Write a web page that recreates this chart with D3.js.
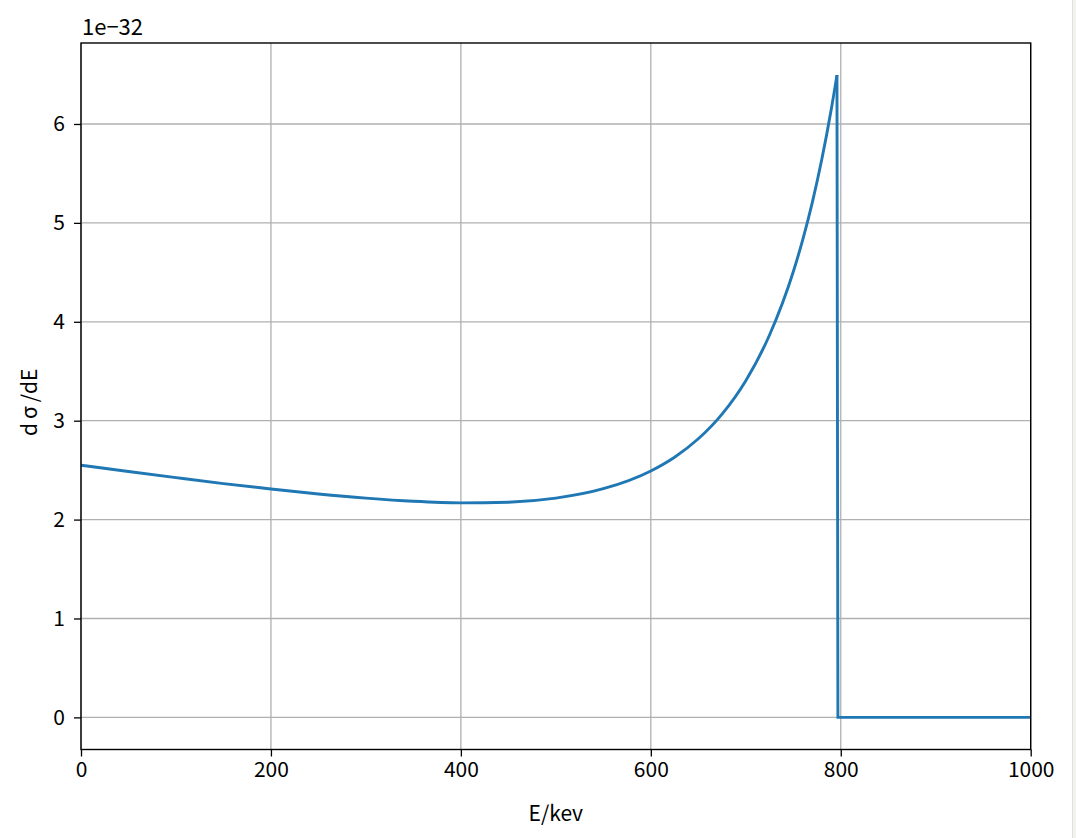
<!DOCTYPE html>
<html>
<head>
<meta charset="utf-8">
<script src="https://cdn.jsdelivr.net/npm/d3@7"></script>
<style>
  html, body { margin: 0; padding: 0; background: #ffffff; }
  svg { display: block; }
  text { font-family: "Noto Sans CJK SC", "Noto Sans", sans-serif; fill: #000; }
</style>
</head>
<body>
<svg id="chart" width="1076" height="838"></svg>
<script>
// Energy (keV) and dσ/dE values (in units of 1e-32)
const energy = [0, 50, 100, 150, 200, 250, 300, 350, 400, 450, 500, 550, 600, 625, 650, 675, 700, 725, 750, 760, 770, 780, 785, 790, 793, 796];
const dsigma = [2.550, 2.486, 2.424, 2.364, 2.309, 2.259, 2.217, 2.185, 2.169, 2.176, 2.217, 2.312, 2.492, 2.631, 2.817, 3.067, 3.405, 3.866, 4.506, 4.830, 5.205, 5.641, 5.885, 6.148, 6.317, 6.494];
// Beyond the Compton edge the cross-section is zero
const edgeEnergy = [796, 797, 1000];
const edgeValue = [6.494, 0, 0];

const xTicks = [0, 200, 400, 600, 800, 1000];
const yTicks = [0, 1, 2, 3, 4, 5, 6];
const xLabel = "E/kev";
const offsetLabel = "1e\u221232";

const W = 1076, H = 838;
const mLeft = 81, mRight = 1030.7, mTop = 43, mBottom = 749.5;

const svg = d3.select("#chart");
svg.append("rect").attr("width", W).attr("height", H).attr("fill", "#ffffff");
// light strip on the right edge of the screenshot
svg.append("rect").attr("x", 1072).attr("y", 0).attr("width", 4).attr("height", H).attr("fill", "#f2f2ee");
svg.append("line").attr("x1", 1072.5).attr("x2", 1072.5).attr("y1", 0).attr("y2", H).attr("stroke", "#e2e2dc");

const x = d3.scaleLinear().domain([0, 1000]).range([mLeft, mRight]);
const yMin = -0.3247, yMax = 6.8188;
const y = d3.scaleLinear().domain([yMin, yMax]).range([mBottom, mTop]);

// grid
const grid = svg.append("g");
grid.selectAll("line.vx").data(xTicks).join("line")
  .attr("x1", d => x(d)).attr("x2", d => x(d))
  .attr("y1", mTop).attr("y2", mBottom)
  .attr("stroke", "#b0b0b0").attr("stroke-width", 1.3);
grid.selectAll("line.hy").data(yTicks).join("line")
  .attr("x1", mLeft).attr("x2", mRight)
  .attr("y1", d => y(d)).attr("y2", d => y(d))
  .attr("stroke", "#b0b0b0").attr("stroke-width", 1.3);

// data line
const pts = energy.map((e, i) => [e, dsigma[i]]);
const edgePts = edgeEnergy.map((e, i) => [e, edgeValue[i]]);
const lineCurve = d3.line().x(d => x(d[0])).y(d => y(d[1])).curve(d3.curveMonotoneX);
const lineLin = d3.line().x(d => x(d[0])).y(d => y(d[1]));
svg.append("path").attr("d", lineCurve(pts))
  .attr("fill", "none").attr("stroke", "#1f77b4").attr("stroke-width", 2.9)
  .attr("stroke-linejoin", "round").attr("stroke-linecap", "butt");
svg.append("path").attr("d", lineLin(edgePts))
  .attr("fill", "none").attr("stroke", "#1f77b4").attr("stroke-width", 2.9)
  .attr("stroke-linejoin", "miter").attr("stroke-linecap", "butt");

// axes
const fs = 21;
const xAxis = d3.axisBottom(x).tickValues(xTicks).tickSize(7).tickPadding(6).tickFormat(d3.format("d"));
const gx = svg.append("g").attr("transform", `translate(0,${mBottom})`).call(xAxis);
const yAxis = d3.axisLeft(y).tickValues(yTicks).tickSize(7).tickPadding(9).tickFormat(d3.format("d"));
const gy = svg.append("g").attr("transform", `translate(${mLeft},0)`).call(yAxis);
[gx, gy].forEach(g => {
  g.select(".domain").remove();
  g.selectAll(".tick line").attr("stroke", "#000").attr("stroke-width", 1.3);
  g.selectAll(".tick text").attr("font-size", fs).attr("font-family", "'Noto Sans CJK SC', sans-serif").attr("fill", "#000");
});

// frame
svg.append("rect").attr("x", mLeft).attr("y", mTop).attr("width", mRight - mLeft).attr("height", mBottom - mTop)
  .attr("fill", "none").attr("stroke", "#000").attr("stroke-width", 1.4);

// offset text
svg.append("text").attr("x", mLeft + 1).attr("y", 35).attr("font-size", 22).text(offsetLabel);

// x label
svg.append("text").attr("x", (mLeft + mRight) / 2).attr("y", 821).attr("text-anchor", "middle")
  .attr("font-size", fs).text(xLabel);

// y label
const yl = svg.append("text").attr("transform", `translate(37,${(mTop + mBottom) / 2 + 6}) rotate(-90)`)
  .attr("text-anchor", "middle").attr("font-size", fs);
yl.append("tspan").text("d");
yl.append("tspan").attr("dx", 4).text("σ");
yl.append("tspan").attr("dx", 4).text("/dE");
</script>
</body>
</html>
